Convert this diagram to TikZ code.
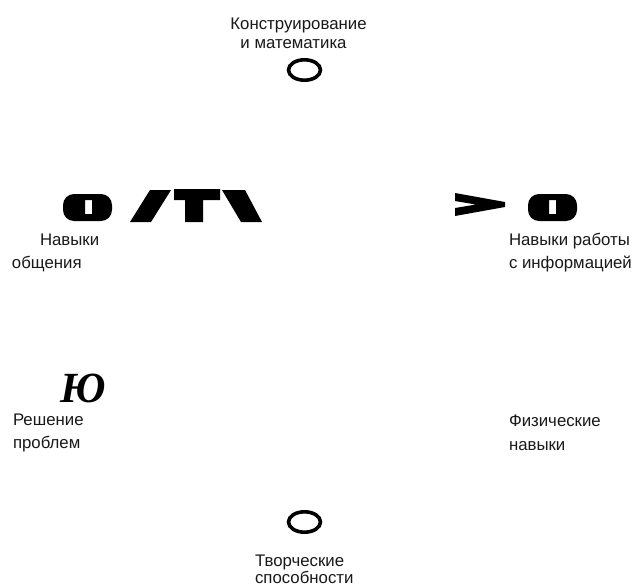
\documentclass[tikz,border=0pt]{standalone}
\usepackage{fontspec}
\setmainfont{Liberation Sans}
\newfontfamily\glyphserif{Liberation Serif}
\begin{document}
\begin{tikzpicture}[x=1pt,y=-1pt,
  lbl/.style={inner sep=0pt,outer sep=0pt,font=\fontsize{16.8}{19}\selectfont,text=black!90},
  ring/.style={draw=black,line width=3.6pt},
  glyphfill/.style={fill=black}]
\useasboundingbox[fill=white] (0,0) rectangle (635,586);
% top
\node[lbl,anchor=base] (topA) at (298.5,30) {Конструирование};
\node[lbl,anchor=base] (topB) at (293.5,49) {и математика};
\draw[ring] (304.5,70) ellipse [x radius=16, y radius=10.2];
% left upper
\fill[glyphfill,even odd rule] [rounded corners=11] (63,194) rectangle (112,221) [sharp corners] (85,200) rectangle (92,214);
\fill[glyphfill] (150,190) -- (171,190) -- (151,222) -- (130,222) -- cycle;
\fill[glyphfill] (174,189) -- (220,189) -- (220,200) -- (203,200) -- (203,222) -- (185,222) -- (185,200) -- (174,200) -- cycle;
\fill[glyphfill] (222,190) -- (245,190) -- (262,222) -- (241,222) -- cycle;
\node[lbl,anchor=base west] (leftA) at (40,245) {Навыки};
\node[lbl,anchor=base west] (leftB) at (12,268) {общения};
% right upper
\fill[glyphfill] (455,193) -- (505,202) -- (505,207) -- (455,216) -- (455,208) -- (476,204.5) -- (455,201) -- cycle;
\fill[glyphfill,even odd rule] [rounded corners=11] (528,194) rectangle (577,221) [sharp corners] (549,200) rectangle (556,214);
\node[lbl,anchor=base west] (rightA) at (509,245) {Навыки работы};
\node[lbl,anchor=base west] (rightB) at (509,268) {с информацией};
% left lower
\node[inner sep=0pt,anchor=base west,font=\glyphserif\bfseries\itshape\fontsize{43}{43}\selectfont] (yu) at (60,402) {Ю};
\node[lbl,anchor=base west] (probA) at (13,425) {Решение};
\node[lbl,anchor=base west] (probB) at (13,448) {проблем};
% right lower
\node[lbl,anchor=base west] (physA) at (509,426) {Физические};
\node[lbl,anchor=base west] (physB) at (509,450) {навыки};
% bottom
\draw[ring] (304.5,522) ellipse [x radius=16, y radius=10.2];
\node[lbl,anchor=base west] (creaA) at (255,566) {Творческие};
\node[lbl,anchor=base west] (creaB) at (255,583) {способности};
\end{tikzpicture}
\end{document}
